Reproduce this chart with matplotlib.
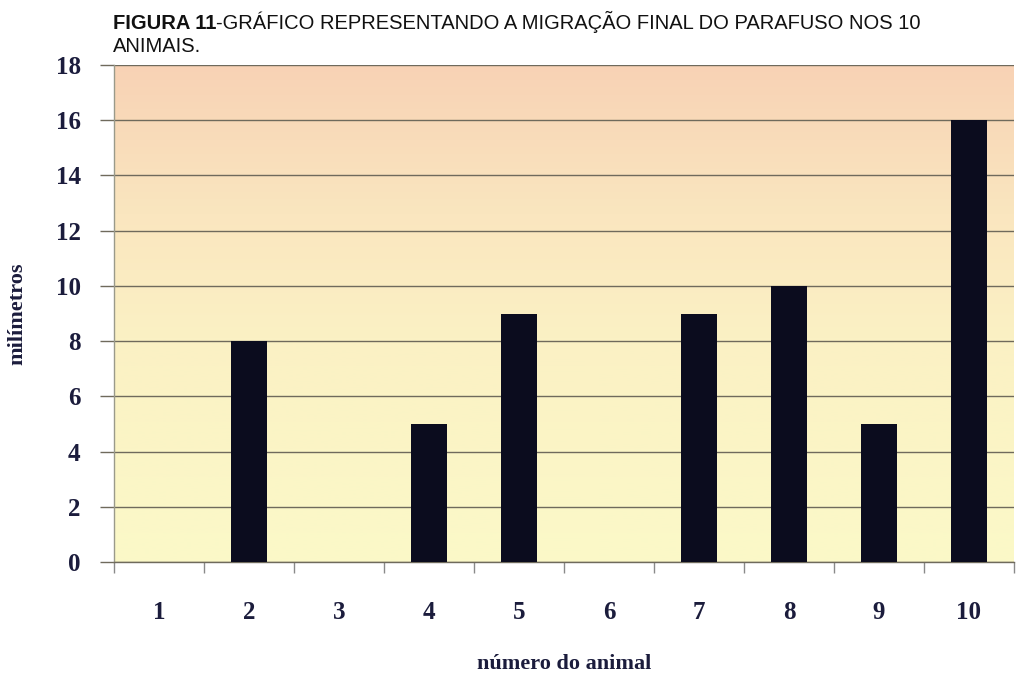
import numpy as np
import matplotlib
matplotlib.use("Agg")
import matplotlib.pyplot as plt
from matplotlib.colors import LinearSegmentedColormap

# Final screw migration per animal (mm)
animals = ["1", "2", "3", "4", "5", "6", "7", "8", "9", "10"]
migration_mm = [0, 8, 0, 5, 9, 0, 9, 10, 5, 16]
y_ticks = [0, 2, 4, 6, 8, 10, 12, 14, 16, 18]

title_bold = "FIGURA 11"
title_rest = "-GRÁFICO REPRESENTANDO A MIGRAÇÃO FINAL DO PARAFUSO NOS 10"
title_line2 = "ANIMAIS."
x_label = "número do animal"
y_label = "milímetros"

text_color = "#1b1c3c"
serif = ["Liberation Serif", "DejaVu Serif"]

fig = plt.figure(figsize=(10.16, 6.75), dpi=100)
ax = fig.add_axes([0.1122, 0.1674, 0.8858, 0.7363])

n = len(animals)
x = np.arange(n)

# Background gradient: peach at the top fading to pale yellow at the bottom
cmap = LinearSegmentedColormap.from_list(
    "bg", [(0.0, "#fbf9c8"), (0.45, "#fbf1c4"), (0.7, "#fae6bf"),
           (1.0, "#f8d2b5")])
grad = np.linspace(0, 1, 256).reshape(-1, 1)
ax.imshow(grad, cmap=cmap, aspect="auto", origin="lower",
          extent=[-0.5, n - 0.5, 0, 18], zorder=0)

ax.bar(x, migration_mm, width=0.39, color="#0b0c1e", zorder=3)

ax.set_xlim(-0.5, n - 0.5)
ax.set_ylim(0, 18)

ax.set_yticks(y_ticks)
ax.set_yticklabels([str(v) for v in y_ticks])
ax.yaxis.grid(True, color="#6f6a5c", linewidth=1.0)
for gl in ax.get_ygridlines():
    gl.set_zorder(1)

ax.set_xticks(x)
ax.set_xticklabels(animals)
ax.set_xticks(np.arange(-0.5, n, 1.0), minor=True)
ax.tick_params(axis="x", which="major", length=0, pad=28)
ax.tick_params(axis="x", which="minor", length=8, color="#8a8a8a", width=1)
ax.tick_params(axis="y", length=10, color="#6f6a5c", width=1, pad=14)

for lbl in ax.get_xticklabels() + ax.get_yticklabels():
    lbl.set_fontfamily(serif)
    lbl.set_fontweight("bold")
    lbl.set_fontsize(18)
    lbl.set_color(text_color)

for side in ["top", "right"]:
    ax.spines[side].set_visible(False)
ax.spines["left"].set_color("#9a9a8a")
ax.spines["left"].set_linewidth(1.0)
ax.spines["bottom"].set_color("#6f6a5c")
ax.spines["bottom"].set_linewidth(1.0)

ax.set_xlabel(x_label, fontfamily=serif, fontweight="bold", fontsize=16,
              color=text_color, labelpad=22)
ax.set_ylabel(y_label, fontfamily=serif, fontweight="bold", fontsize=16,
              color=text_color, labelpad=20)

# Figure caption above the chart
cap_y1 = 0.957
cap_y2 = 0.923
t1 = fig.text(0.1112, cap_y1, title_bold, fontfamily="Liberation Sans",
              fontweight="bold", fontsize=14.5, color="#111111", va="baseline")
fig.canvas.draw()
bb = t1.get_window_extent()
fig.text(bb.x1 / fig.bbox.width, cap_y1, title_rest, fontfamily="Liberation Sans",
         fontsize=14.5, color="#111111", va="baseline")
fig.text(0.1112, cap_y2, title_line2, fontfamily="Liberation Sans",
         fontsize=14.5, color="#111111", va="baseline")

fig.savefig("out.png", dpi=100, facecolor="white")
